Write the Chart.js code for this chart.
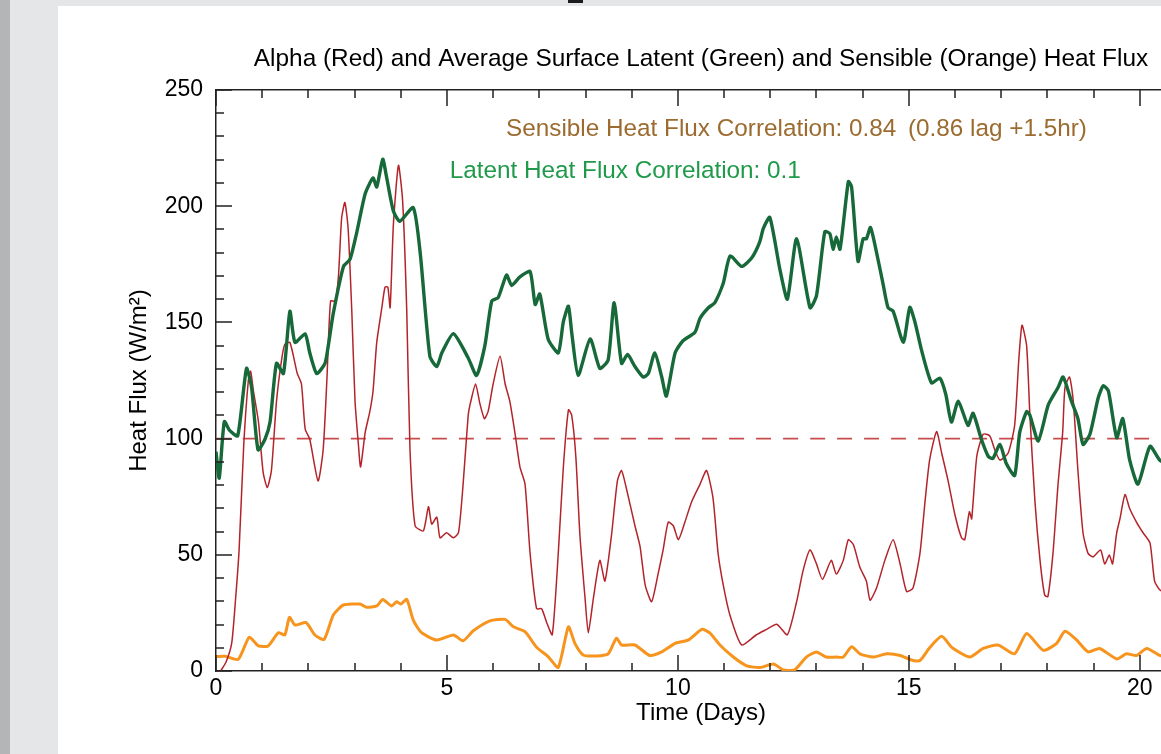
<!DOCTYPE html>
<html>
<head>
<meta charset="utf-8">
<script src="https://cdn.jsdelivr.net/npm/chart.js@4.4.1/dist/chart.umd.min.js"></script>
<style>
  html, body { margin: 0; padding: 0; }
  body { width: 1161px; height: 754px; overflow: hidden; background: #e5e6e8; position: relative; }
  #edge { position: absolute; left: 0; top: 0; width: 10px; height: 754px; background: #b5b5b8; }
  #mark { position: absolute; left: 568px; top: 0; width: 15px; height: 3px; background: #1c1c1c; }
  #page { position: absolute; left: 58px; top: 6px; width: 1103px; height: 748px; background: #fff; overflow: hidden; }
  #chart { position: absolute; left: 0; top: 0; }
</style>
</head>
<body>
<div id="edge"></div>
<div id="mark"></div>
<div id="page"><canvas id="chart" width="1150" height="748"></canvas></div>

<script>
// data (time in days)
const latentDays = [0, 0.07, 0.18, 0.3, 0.47, 0.66, 0.77, 0.91, 1.06, 1.17, 1.31, 1.46, 1.6, 1.71, 1.93, 2.03, 2.18, 2.36, 2.43, 2.54, 2.76, 2.9, 3.05, 3.23, 3.4, 3.48, 3.61, 3.69, 3.84, 3.98, 4.27, 4.42, 4.63, 4.78, 4.89, 5.14, 5.46, 5.64, 5.82, 5.97, 6.11, 6.29, 6.4, 6.58, 6.8, 6.91, 7.01, 7.19, 7.41, 7.52, 7.63, 7.7, 7.84, 8.1, 8.31, 8.49, 8.62, 8.78, 8.91, 9.07, 9.25, 9.36, 9.5, 9.65, 9.75, 9.94, 10.11, 10.37, 10.48, 10.66, 10.8, 10.98, 11.13, 11.38, 11.6, 11.77, 11.85, 11.99, 12.21, 12.37, 12.57, 12.86, 13.0, 13.18, 13.29, 13.36, 13.43, 13.51, 13.69, 13.76, 13.9, 14.01, 14.08, 14.17, 14.3, 14.44, 14.55, 14.66, 14.88, 15.02, 15.13, 15.27, 15.49, 15.67, 15.8, 15.92, 16.07, 16.28, 16.39, 16.57, 16.72, 16.82, 16.97, 17.11, 17.29, 17.4, 17.55, 17.62, 17.8, 18.02, 18.23, 18.34, 18.52, 18.66, 18.77, 18.92, 19.1, 19.21, 19.32, 19.5, 19.63, 19.78, 19.96, 20.22, 20.43, 20.6];
const latentFlux = [94.4, 83, 107.3, 103.4, 101.2, 130.2, 122, 95.2, 99.7, 107.1, 132.4, 128, 154.8, 141.4, 145.1, 136.9, 128, 132.4, 139.9, 154, 174.1, 177.1, 189, 205.4, 212.1, 208.3, 220.2, 212.8, 197.9, 193.5, 199.4, 180.1, 135.4, 131, 136.9, 145.1, 134.7, 127.2, 139.9, 159.2, 160.7, 170.4, 165.9, 169.6, 171.9, 157.7, 162.2, 142.9, 136.9, 150.3, 157, 145.8, 127.2, 142.9, 130.2, 133.9, 158.5, 132.4, 136.2, 131, 126.5, 128, 136.9, 126.5, 118.3, 136.9, 142.1, 145.8, 151.8, 156.3, 158.5, 166.7, 178.6, 174.1, 177.8, 184.5, 190.5, 195.2, 172.6, 160, 186, 156.3, 161.5, 189, 188.2, 181.5, 186.8, 181.5, 210.6, 208.3, 176.3, 186, 186, 190.8, 180.1, 166.7, 156.3, 154.8, 141.4, 156.5, 150.3, 138.4, 124, 126, 119, 107.1, 116.1, 105.7, 110.9, 99.7, 92.3, 91.5, 97.5, 89.3, 84.1, 102.7, 111.6, 110.1, 99, 114.6, 122, 126.5, 116.1, 108.6, 97.5, 101.9, 117.6, 122.8, 120.5, 100.4, 108.6, 90.8, 80.4, 96.7, 90.8, 89];

const alphaDays = [0.1, 0.22, 0.34, 0.42, 0.5, 0.6, 0.7, 0.75, 0.81, 0.92, 1.02, 1.11, 1.2, 1.31, 1.42, 1.49, 1.6, 1.76, 1.85, 1.93, 2.03, 2.21, 2.32, 2.4, 2.48, 2.58, 2.65, 2.72, 2.79, 2.86, 2.94, 3.01, 3.08, 3.13, 3.23, 3.33, 3.4, 3.48, 3.59, 3.66, 3.72, 3.77, 3.84, 3.95, 4.04, 4.13, 4.2, 4.31, 4.49, 4.6, 4.67, 4.78, 4.85, 4.99, 5.14, 5.25, 5.35, 5.46, 5.5, 5.62, 5.71, 5.81, 5.89, 6.0, 6.15, 6.26, 6.36, 6.47, 6.58, 6.69, 6.8, 6.94, 7.05, 7.16, 7.28, 7.41, 7.52, 7.63, 7.7, 7.79, 7.88, 7.99, 8.06, 8.17, 8.31, 8.42, 8.56, 8.69, 8.78, 8.89, 9.07, 9.18, 9.29, 9.43, 9.57, 9.68, 9.79, 9.9, 10.01, 10.15, 10.3, 10.48, 10.62, 10.76, 10.87, 10.98, 11.13, 11.38, 11.7, 11.92, 12.14, 12.37, 12.57, 12.71, 12.86, 13.0, 13.13, 13.32, 13.43, 13.58, 13.69, 13.8, 13.94, 14.08, 14.16, 14.3, 14.48, 14.66, 14.81, 14.95, 15.09, 15.24, 15.35, 15.45, 15.6, 15.71, 15.85, 16.0, 16.14, 16.21, 16.31, 16.36, 16.47, 16.61, 16.75, 16.86, 16.97, 17.15, 17.29, 17.38, 17.45, 17.55, 17.62, 17.73, 17.84, 17.94, 18.01, 18.12, 18.23, 18.33, 18.38, 18.48, 18.56, 18.66, 18.77, 18.88, 18.99, 19.15, 19.24, 19.34, 19.41, 19.5, 19.57, 19.68, 19.78, 19.93, 20.07, 20.22, 20.32, 20.43, 20.6];
const alphaVals = [0, 4, 12, 30, 52, 97, 125, 129, 120.5, 107.1, 85.6, 78.9, 86.3, 116.1, 133.9, 140.6, 141.4, 128, 123.5, 104.2, 99.7, 81.8, 95.2, 125, 159.2, 159.2, 169.6, 194.9, 201.6, 190.5, 154.8, 116.1, 98.2, 87.8, 102.7, 111.6, 120.5, 141.4, 156.3, 165.2, 165.2, 156.3, 192, 217.6, 202.4, 154.8, 95.2, 62.5, 60.3, 70.7, 63.2, 66.2, 57.3, 59.5, 57.3, 59.5, 80.4, 110.1, 114.6, 123.5, 115.3, 108.6, 111.6, 123.5, 135.4, 123.5, 116.1, 102.7, 87.8, 80.4, 50.6, 26.8, 26.8, 20.8, 15.6, 50.6, 87.8, 112.4, 110.1, 92.3, 58, 31.3, 16.4, 31.3, 47.6, 38.7, 58, 81.8, 86.3, 78.1, 62.5, 53.6, 37.2, 29.8, 41.7, 52.1, 64, 62.5, 56.5, 64, 72.9, 80.4, 86.3, 74.4, 50.6, 37.2, 23.8, 11.2, 15.6, 17.9, 20.1, 15.6, 29.8, 43.2, 52.1, 46.1, 39.4, 47.6, 41.7, 47.6, 56.5, 54.3, 44.6, 38.7, 30.5, 35.7, 47.6, 56.5, 46.1, 34.2, 35.7, 50.6, 72.9, 90.8, 103, 93.8, 81.8, 67, 57.3, 56.5, 68.5, 65.5, 92.3, 101.9, 101.2, 95.2, 90.8, 93.8, 105.7, 133.9, 148.8, 139.9, 110.1, 72.9, 47.6, 32.7, 32, 50.6, 80.4, 102.7, 122, 126.5, 116.1, 86.3, 59.5, 50.6, 49.1, 52.1, 46.1, 49.9, 46.1, 59.5, 65.5, 75.9, 69.9, 64, 59.5, 55.1, 38.7, 35, 33];

const sensibleDays = [0, 0.2, 0.48, 0.72, 0.92, 1.13, 1.35, 1.49, 1.59, 1.71, 1.95, 2.14, 2.34, 2.54, 2.76, 3.12, 3.26, 3.48, 3.61, 3.8, 3.91, 4.0, 4.13, 4.27, 4.45, 4.78, 5.14, 5.35, 5.57, 5.93, 6.26, 6.44, 6.69, 6.94, 7.19, 7.41, 7.63, 7.77, 7.95, 8.24, 8.49, 8.67, 8.78, 9.07, 9.39, 9.65, 9.94, 10.23, 10.52, 10.69, 10.91, 11.2, 11.49, 11.78, 12.07, 12.28, 12.53, 12.78, 13.0, 13.21, 13.43, 13.58, 13.76, 13.94, 14.23, 14.52, 14.81, 15.09, 15.24, 15.45, 15.71, 15.94, 16.32, 16.61, 16.93, 17.29, 17.55, 17.91, 18.2, 18.38, 18.63, 18.88, 19.13, 19.5, 19.71, 19.93, 20.15, 20.43, 20.6];
const sensibleFlux = [6.2, 6.3, 5, 14.5, 10.8, 10.8, 16.5, 15.5, 23.1, 19.8, 20.8, 15.5, 13.6, 24.1, 28.4, 28.8, 27.4, 28, 30.8, 28, 29.8, 28.8, 30.8, 21.9, 16.5, 13.3, 15.5, 13, 17.3, 21.6, 22.2, 19, 16.9, 10.2, 6.2, 1.6, 19, 11.9, 6.9, 6.5, 7.4, 14.1, 11.2, 11.2, 6.7, 8.2, 11.9, 13.4, 17.9, 16.4, 11.2, 6, 2.2, 1.5, 3, 0.5, 0.5, 6, 8.2, 6, 6, 6, 10.4, 7.4, 6, 7.4, 6.7, 4.5, 4.5, 10, 14.9, 10, 6, 9.7, 11.2, 7.4, 16.1, 8.9, 11.9, 17.1, 13.4, 8.2, 9.7, 5.2, 7.4, 6.7, 9.7, 6.7, 5.5];

const alphaRef = 100;           // dashed reference level
const dayRange = [0, 21];
const fluxRange = [0, 250];
const dayStep = 5, dayMinor = 1;
const fluxStep = 50, fluxMinor = 10;

const titleText = 'Alpha (Red) and Average Surface Latent (Green) and Sensible (Orange) Heat Flux';
const notes = [
  { text: 'Sensible Heat Flux Correlation: 0.84', day: 6.28, flux: 233, color: '#9c6b30' },
  { text: '(0.86 lag +1.5hr)', day: 14.98, flux: 233, color: '#9c6b30' },
  { text: 'Latent Heat Flux Correlation: 0.1', day: 5.06, flux: 215, color: '#1f9a4a' }
];

const pts = (xs, ys) => xs.map((d, i) => ({ x: d, y: ys[i] }));
const FONT = "'Liberation Sans', Arial, Helvetica, sans-serif";

// inward tick marks on the frame, taken from the scales
const frameTicks = {
  id: 'frameTicks',
  afterDatasetsDraw(chart) {
    const { ctx, chartArea: a, scales: { x, y } } = chart;
    const xMajor = new Set(x.ticks.map(t => t.value));
    const yMajor = new Set(y.ticks.map(t => t.value));
    ctx.save();
    ctx.strokeStyle = '#222';
    ctx.lineWidth = 1.5;
    ctx.beginPath();
    for (let d = x.min; d <= x.max; d += dayMinor) {
      const px = Math.round(x.getPixelForValue(d));
      const len = xMajor.has(d) ? 16 : 8;
      ctx.moveTo(px, a.bottom); ctx.lineTo(px, a.bottom - len);
      ctx.moveTo(px, a.top); ctx.lineTo(px, a.top + len);
    }
    for (let v = y.min; v <= y.max; v += fluxMinor) {
      const py = Math.round(y.getPixelForValue(v));
      const len = yMajor.has(v) ? 16 : 8;
      ctx.moveTo(a.left, py); ctx.lineTo(a.left + len, py);
      ctx.moveTo(a.right, py); ctx.lineTo(a.right - len, py);
    }
    ctx.stroke();

    ctx.font = '24.3px ' + FONT;
    ctx.textBaseline = 'middle';
    ctx.textAlign = 'left';
    notes.forEach(n => {
      ctx.fillStyle = n.color;
      ctx.fillText(n.text, x.getPixelForValue(n.day), y.getPixelForValue(n.flux));
    });
    ctx.restore();
  }
};

new Chart(document.getElementById('chart'), {
  type: 'line',
  data: {
    datasets: [
      {
        label: 'Latent',
        data: pts(latentDays, latentFlux),
        borderColor: '#17693a',
        borderWidth: 3.4,
        order: 1
      },
      {
        label: 'Alpha',
        data: pts(alphaDays, alphaVals),
        borderColor: '#b3242a',
        borderWidth: 1.5,
        order: 2
      },
      {
        label: 'Sensible',
        data: pts(sensibleDays, sensibleFlux),
        borderColor: '#f7941d',
        borderWidth: 3,
        order: 3
      },
      {
        label: 'Reference',
        data: pts(dayRange, [alphaRef, alphaRef]),
        borderColor: '#c84c4c',
        borderWidth: 1.6,
        borderDash: [15, 12],
        order: 4
      }
    ]
  },
  options: {
    responsive: false,
    animation: false,
    devicePixelRatio: 1,
    parsing: false,
    elements: {
      point: { radius: 0 },
      line: { tension: 0.2, fill: false }
    },
    layout: { padding: { left: 0, right: 22, top: 0, bottom: 13 } },
    plugins: {
      legend: { display: false },
      tooltip: { enabled: false },
      title: {
        display: true,
        text: titleText,
        fullSize: false,
        color: '#000',
        font: { family: FONT, size: 24.4, weight: 'normal', lineHeight: '26px' },
        padding: { top: 40, bottom: 18 }
      }
    },
    scales: {
      x: {
        type: 'linear',
        position: 'bottom',
        min: dayRange[0],
        max: dayRange[1],
        afterFit: s => { s.height = 70; },
        border: { display: true, color: '#222', width: 1.5 },
        grid: { drawOnChartArea: false, drawTicks: false },
        ticks: { stepSize: dayStep, includeBounds: false, maxRotation: 0, padding: 4, color: '#000', font: { family: FONT, size: 23 } },
        title: { display: true, text: 'Time (Days)', color: '#000', font: { family: FONT, size: 24 }, padding: { top: 0, bottom: 13 } }
      },
      xTop: {
        type: 'linear',
        position: 'top',
        min: dayRange[0],
        max: dayRange[1],
        afterFit: s => { s.height = 0; },
        border: { display: true, color: '#222', width: 1.5 },
        grid: { drawOnChartArea: false, drawTicks: false },
        ticks: { display: false }
      },
      y: {
        type: 'linear',
        position: 'left',
        min: fluxRange[0],
        max: fluxRange[1],
        afterFit: s => { s.width = 158; },
        border: { display: true, color: '#222', width: 1.5 },
        grid: { drawOnChartArea: false, drawTicks: false },
        ticks: { stepSize: fluxStep, padding: 13, color: '#000', font: { family: FONT, size: 23 } },
        title: { display: true, text: 'Heat Flux (W/m²)', color: '#000', font: { family: FONT, size: 24 }, padding: { top: 67, bottom: 0 } }
      }
    }
  },
  plugins: [frameTicks]
});
</script>
</body>
</html>
